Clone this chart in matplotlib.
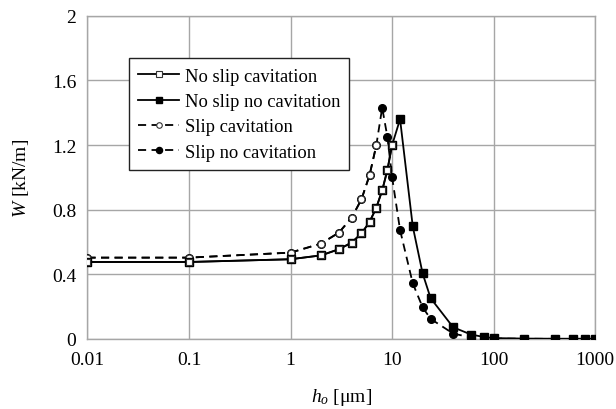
import matplotlib
matplotlib.use("Agg")
import matplotlib.pyplot as plt

plt.rcParams['font.family'] = ['Liberation Serif', 'DejaVu Serif']
plt.rcParams['mathtext.fontset'] = 'custom'
plt.rcParams['mathtext.rm'] = 'Liberation Serif'
plt.rcParams['mathtext.it'] = 'Liberation Serif:italic'

# Data
h_ns = [0.01, 0.1, 1, 2, 3, 4, 5, 6, 7, 8, 9, 10, 12, 16, 20, 24, 40, 60, 80, 100, 200, 400, 600, 800, 1000]
w_ns_nocav = [0.476, 0.476, 0.493, 0.517, 0.555, 0.596, 0.653, 0.723, 0.812, 0.919, 1.045, 1.198,
              1.36, 0.697, 0.406, 0.252, 0.072, 0.027, 0.012, 0.005, 0.002, 0.001, 0.001, 0.001, 0.001]
h_ns_cav = [0.01, 0.1, 1, 2, 3, 4, 5, 6, 7, 8, 9, 10]
w_ns_cav = [0.476, 0.476, 0.493, 0.517, 0.555, 0.596, 0.653, 0.723, 0.812, 0.919, 1.045, 1.198]

h_s = [0.01, 0.1, 1, 2, 3, 4, 5, 6, 7, 8, 9, 10, 12, 16, 20, 24, 40, 60, 80, 100, 200, 400, 600, 800, 1000]
w_s_nocav = [0.503, 0.503, 0.534, 0.590, 0.658, 0.750, 0.864, 1.012, 1.198, 1.431, 1.251, 1.004,
             0.674, 0.344, 0.196, 0.124, 0.033, 0.009, 0.004, 0.002, 0.001, 0.0, 0.0, 0.0, 0.0]
h_s_cav = [0.01, 0.1, 1, 2, 3, 4, 5, 6, 7]
w_s_cav = [0.503, 0.503, 0.534, 0.590, 0.658, 0.750, 0.864, 1.012, 1.198]

xticks = [0.01, 0.1, 1, 10, 100, 1000]
xticklabels = ['0.01', '0.1', '1', '10', '100', '1000']
yticks = [0, 0.4, 0.8, 1.2, 1.6, 2]
yticklabels = ['0', '0.4', '0.8', '1.2', '1.6', '2']

fig = plt.figure(figsize=(6.16, 4.10), dpi=100)
ax = fig.add_axes([0.142, 0.171, 0.824, 0.788])

grid_c = '#a6a6a6'
dash = (0, (4.5, 3))

# slip no cavitation (drawn first)
l4, = ax.plot(h_s, w_s_nocav, color='black', lw=1.3, linestyle=dash, marker='o',
              markersize=5.5, markerfacecolor='black', markeredgecolor='black', zorder=3)
l3, = ax.plot(h_s_cav, w_s_cav, color='black', lw=1.3, linestyle=dash, marker='o',
              markersize=5, markerfacecolor='white', markeredgecolor='#333333',
              markeredgewidth=0.8, zorder=4)
l2, = ax.plot(h_ns, w_ns_nocav, color='black', lw=1.3, linestyle='-', marker='s',
              markersize=5.5, markerfacecolor='black', markeredgecolor='black', zorder=5)
l1, = ax.plot(h_ns_cav, w_ns_cav, color='black', lw=1.3, linestyle='-', marker='s',
              markersize=5, markerfacecolor='white', markeredgecolor='#333333',
              markeredgewidth=0.8, zorder=6)

ax.set_xscale('log')
ax.set_xlim(0.01, 1000)
ax.set_ylim(0, 2)
ax.set_xticks(xticks)
ax.set_xticklabels(xticklabels)
ax.set_yticks(yticks)
ax.set_yticklabels(yticklabels)
ax.minorticks_off()
ax.tick_params(axis='both', length=0, labelsize=14)
ax.tick_params(axis='x', pad=9)
ax.tick_params(axis='y', pad=8)
ax.grid(True, color=grid_c, lw=1.0)
ax.set_axisbelow(True)
for s in ax.spines.values():
    s.set_color(grid_c)
    s.set_linewidth(1.0)

ax.set_xlabel('$h_o$ [μm]', fontsize=14, labelpad=13)
ax.set_ylabel('$W$ [kN/m]', fontsize=14, labelpad=15)

leg = ax.legend([l1, l2, l3, l4],
                ['No slip cavitation', 'No slip no cavitation', 'Slip cavitation', 'Slip no cavitation'],
                loc='upper left', bbox_to_anchor=(0.082, 0.868), fontsize=13.3,
                frameon=True, fancybox=False, edgecolor='#222222', framealpha=1,
                handlelength=2.2, handletextpad=0.3, borderpad=0.5, labelspacing=0.45,
                borderaxespad=0, markerscale=0.8)
leg.get_frame().set_linewidth(1.0)
leg.set_zorder(10)

fig.savefig('out.png', dpi=100)
